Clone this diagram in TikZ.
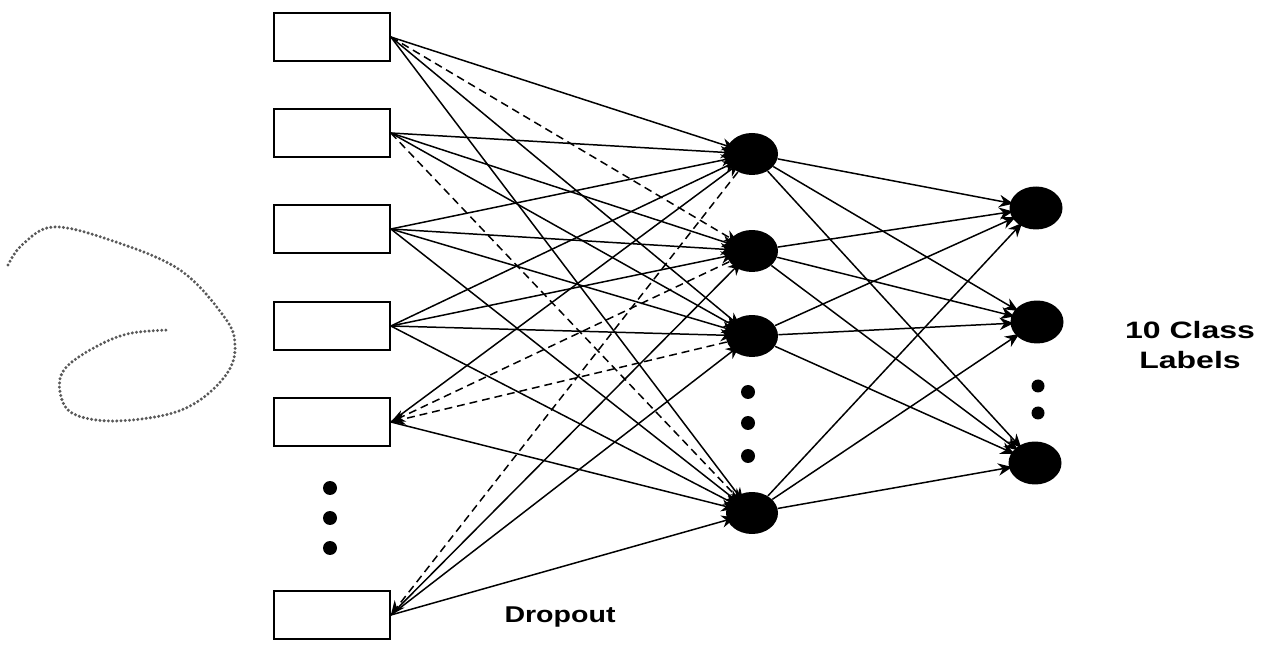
\documentclass[tikz,border=0pt]{standalone}
\usepackage{fontspec}
\setmainfont{Liberation Sans}
\usetikzlibrary{shapes.geometric,arrows.meta}
\begin{document}
\begin{tikzpicture}[x=0.02cm,y=-0.02cm,
  inbox/.style={draw,line width=1pt,minimum width=2.32cm,minimum height=0.96cm,inner sep=0},
  unit/.style={ellipse,fill=black,minimum width=1.04cm,minimum height=0.84cm,inner sep=0},
  outunit/.style={ellipse,fill=black,minimum width=1.06cm,minimum height=0.86cm,inner sep=0},
  dotmark/.style={circle,fill=black,minimum size=0.28cm,inner sep=0},
  link/.style={line width=0.85pt,-{Stealth[length=8pt,width=7pt]},shorten >=-5pt},
  droplink/.style={link,dash pattern=on 4.5pt off 2.8pt},
  caption/.style={font=\bfseries\fontsize{13}{17}\selectfont,xscale=1.25,align=center}]
\useasboundingbox (0,0) rectangle (1271,651);

% input layer
\node[inbox] (i1) at (332,37) {};
\node[inbox] (i2) at (332,133) {};
\node[inbox] (i3) at (332,229) {};
\node[inbox] (i4) at (332,326) {};
\node[inbox] (i5) at (332,422) {};
\node[inbox] (i6) at (332,615) {};
\node[dotmark] (id1) at (330,488) {};
\node[dotmark] (id2) at (330,518) {};
\node[dotmark] (id3) at (330,548) {};

% hidden layer
\node[unit] (h1) at (752,154) {};
\node[unit] (h2) at (752,251) {};
\node[unit] (h3) at (752,336) {};
\node[unit] (h4) at (752,513) {};
\node[dotmark] (hd1) at (748,392) {};
\node[dotmark] (hd2) at (748,423) {};
\node[dotmark] (hd3) at (748,456) {};

% output layer
\node[outunit] (o1) at (1036,208) {};
\node[outunit] (o2) at (1037,322) {};
\node[outunit] (o3) at (1035,463) {};
\node[dotmark,minimum size=0.26cm] (od1) at (1038,386) {};
\node[dotmark,minimum size=0.26cm] (od2) at (1038,413) {};

% input -> hidden
\draw[link] (i1.east) -- (h1);
\draw[droplink] (i1.east) -- (h2);
\draw[link] (i1.east) -- (h3);
\draw[link] (i1.east) -- (h4);

\draw[link] (i2.east) -- (h1);
\draw[link] (i2.east) -- (h2);
\draw[link] (i2.east) -- (h3);
\draw[droplink] (i2.east) -- (h4);

\foreach \i in {3,4}
  \foreach \h in {1,2,3,4}
    \draw[link] (i\i.east) -- (h\h);

\draw[link] (i5.east) -- (h1);
\draw[droplink,shorten >=0pt] (h2) -- (i5.east);
\draw[droplink,shorten >=0pt] (h3) -- (i5.east);
\draw[link] (i5.east) -- (h4);

\draw[droplink,shorten >=0pt] (h1) -- (i6.east);
\draw[link] (i6.east) -- (h2);
\draw[link] (i6.east) -- (h3);
\draw[link] (i6.east) -- (h4);

% hidden -> output
\foreach \h in {1,2,3,4}
  \foreach \o in {1,2,3}
    \draw[link,shorten >=-2pt] (h\h) -- (o\o);

% labels
\node[caption,font=\bfseries\fontsize{13.5}{17}\selectfont,xscale=1.08] (classes) at (1190,345) {10 Class\\Labels};
\node[caption] (drop) at (560,617) {Dropout};

% hand-drawn stroke at the left
\draw[gray!70!black, line width=1.9pt, line cap=round, dash pattern=on 0pt off 2.4pt]
  plot[smooth, tension=0.6] coordinates {(8,265) (22,245) (53,227) (110,240) (180,270)
    (225,318) (235,345) (228,372) (200,400) (165,415) (110,421) (72,413) (60,392)
    (64,370) (90,350) (127,334) (170,330)};
\end{tikzpicture}
\end{document}
